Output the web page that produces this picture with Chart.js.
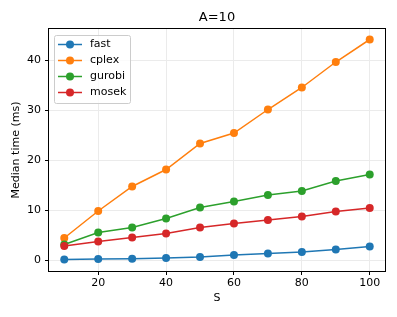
<!DOCTYPE html>
<html>
<head>
<meta charset="utf-8">
<script src="https://cdn.jsdelivr.net/npm/chart.js@4/dist/chart.umd.min.js"></script>
<style>
html,body{margin:0;padding:0;background:#fff;}
#wrap{width:397px;height:317px;}
</style>
</head>
<body>
<div id="wrap"><canvas id="c" width="397" height="317"></canvas></div>
<script>
const sizes = [10, 20, 30, 40, 50, 60, 70, 80, 90, 100];
const fastTimes   = [0.1, 0.2, 0.25, 0.4, 0.6, 1.0, 1.3, 1.6, 2.1, 2.7];
const cplexTimes  = [4.4, 9.8, 14.7, 18.1, 23.3, 25.4, 30.1, 34.5, 39.6, 44.1];
const gurobiTimes = [3.1, 5.5, 6.5, 8.3, 10.5, 11.7, 13.0, 13.8, 15.8, 17.1];
const mosekTimes  = [2.8, 3.7, 4.5, 5.3, 6.5, 7.3, 8.0, 8.7, 9.7, 10.4];
const seriesNames = ['fast', 'cplex', 'gurobi', 'mosek'];
const seriesColors = ['#1f77b4', '#ff7f0e', '#2ca02c', '#d62728'];
const xTicks = [20, 40, 60, 80, 100];
const yTicks = [0, 10, 20, 30, 40];
const titleText = 'A=10';
const xLabel = 'S';
const yLabel = 'Median time (ms)';

const FONT = 'DejaVu Sans';
const allSeries = [fastTimes, cplexTimes, gurobiTimes, mosekTimes];

const datasets = allSeries.map((vals, i) => ({
  label: seriesNames[i],
  data: sizes.map((s, j) => ({x: s, y: vals[j]})),
  borderColor: seriesColors[i],
  backgroundColor: seriesColors[i],
  pointBackgroundColor: seriesColors[i],
  pointBorderColor: seriesColors[i],
  pointRadius: 4,
  pointBorderWidth: 0,
  borderWidth: 1.5,
  tension: 0,
  order: allSeries.length - 1 - i
}));

const framePlugin = {
  id: 'frame',
  afterDraw(chart) {
    const ctx = chart.ctx;
    const a = chart.chartArea;
    ctx.save();
    // frame
    ctx.strokeStyle = '#000';
    ctx.lineWidth = 1;
    ctx.strokeRect(Math.round(a.left) - 0.5, Math.round(a.top) - 0.5,
                   Math.round(a.right - a.left) + 1, Math.round(a.bottom - a.top) + 1);
    // title
    ctx.fillStyle = '#000';
    ctx.font = '13px "' + FONT + '"';
    ctx.textAlign = 'center';
    ctx.textBaseline = 'middle';
    ctx.fillText(titleText, (a.left + a.right) / 2, 18);
    // legend
    const lx = a.left + 5, ly = a.top + 6, lw = 76, lh = 68;
    ctx.fillStyle = 'rgba(255,255,255,0.8)';
    ctx.strokeStyle = '#cccccc';
    ctx.lineWidth = 1;
    ctx.beginPath();
    if (ctx.roundRect) ctx.roundRect(lx + 0.5, ly + 0.5, lw, lh, 2); else ctx.rect(lx + 0.5, ly + 0.5, lw, lh);
    ctx.fill();
    ctx.stroke();
    chart.data.datasets.forEach((ds, i) => {
      const cy = ly + 9.5 + i * 16;
      ctx.strokeStyle = ds.borderColor;
      ctx.lineWidth = 1.5;
      ctx.beginPath();
      ctx.moveTo(lx + 4, cy);
      ctx.lineTo(lx + 28, cy);
      ctx.stroke();
      ctx.fillStyle = ds.borderColor;
      ctx.beginPath();
      ctx.arc(lx + 16, cy, 4, 0, Math.PI * 2);
      ctx.fill();
      ctx.fillStyle = '#000';
      ctx.font = '11px "' + FONT + '"';
      ctx.textAlign = 'left';
      ctx.textBaseline = 'middle';
      ctx.fillText(ds.label, lx + 36, cy);
    });
    ctx.restore();
  }
};

new Chart(document.getElementById('c'), {
  type: 'line',
  data: { datasets },
  options: {
    responsive: false,
    animation: false,
    devicePixelRatio: 1,
    layout: { padding: { left: 0, right: 12, top: 29, bottom: 0 } },
    plugins: { legend: { display: false }, title: { display: false }, tooltip: { enabled: false } },
    elements: { line: { fill: false } },
    scales: {
      x: {
        type: 'linear',
        min: 5.5,
        max: 104.5,
        afterBuildTicks: s => { s.ticks = xTicks.map(v => ({value: v})); },
        afterFit: s => { s.height = 46; },
        grid: { color: '#ebebeb', lineWidth: 1, drawTicks: true, tickLength: 4, tickColor: '#000' },
        border: { display: false },
        ticks: { color: '#000', font: { family: FONT, size: 11 }, padding: 2, maxRotation: 0 },
        title: { display: true, text: xLabel, color: '#000', font: { family: FONT, size: 11 }, padding: { top: 12, bottom: 12 } }
      },
      y: {
        type: 'linear',
        min: -2.2,
        max: 46.2,
        afterBuildTicks: s => { s.ticks = yTicks.map(v => ({value: v})); },
        afterFit: s => { s.width = 49; },
        grid: { color: '#ebebeb', lineWidth: 1, drawTicks: true, tickLength: 4, tickColor: '#000' },
        border: { display: false },
        ticks: { color: '#000', font: { family: FONT, size: 11 }, padding: 4 },
        title: { display: true, text: yLabel, color: '#000', font: { family: FONT, size: 11 }, padding: { top: 10, bottom: 10 } }
      }
    }
  },
  plugins: [framePlugin]
});
</script>
</body>
</html>
